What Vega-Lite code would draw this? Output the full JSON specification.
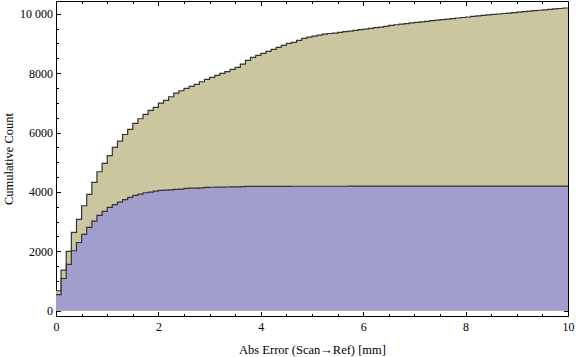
{
  "$schema": "https://vega.github.io/schema/vega-lite/v6.json",
  "width": 512,
  "height": 315,
  "autosize": {"type": "none"},
  "padding": {"left": 56, "top": 1, "right": 8, "bottom": 41},
  "background": "white",
  "config": {
    "view": {"stroke": "#000000", "strokeWidth": 1},
    "font": "Liberation Serif",
    "axis": {"grid": false, "domain": false, "tickColor": "#000000", "tickWidth": 1, "labelColor": "#000000", "titleColor": "#000000", "labelFont": "Liberation Serif", "titleFont": "Liberation Serif", "labelFontSize": 12, "titleFontSize": 12.5, "titleFontWeight": "normal", "zindex": 1, "labelFlush": false, "labelOverlap": false}
  },
  "resolve": {"axis": {"x": "independent", "y": "independent"}},
  "data": {"values": [
    {"s":"all","x":0,"y":673},{"s":"all","x":0.1,"y":1370},{"s":"all","x":0.2,"y":2000},{"s":"all","x":0.3,"y":2640},{"s":"all","x":0.4,"y":3077},{"s":"all","x":0.5,"y":3535},{"s":"all","x":0.6,"y":3919},{"s":"all","x":0.7,"y":4323},{"s":"all","x":0.8,"y":4680},{"s":"all","x":0.9,"y":4963},
    {"s":"all","x":1,"y":5225},{"s":"all","x":1.1,"y":5502},{"s":"all","x":1.2,"y":5710},{"s":"all","x":1.3,"y":5935},{"s":"all","x":1.4,"y":6108},{"s":"all","x":1.5,"y":6310},{"s":"all","x":1.6,"y":6465},{"s":"all","x":1.7,"y":6613},{"s":"all","x":1.8,"y":6747},{"s":"all","x":1.9,"y":6848},
    {"s":"all","x":2,"y":6993},{"s":"all","x":2.1,"y":7084},{"s":"all","x":2.2,"y":7205},{"s":"all","x":2.3,"y":7330},{"s":"all","x":2.4,"y":7407},{"s":"all","x":2.5,"y":7488},{"s":"all","x":2.6,"y":7556},{"s":"all","x":2.7,"y":7623},{"s":"all","x":2.8,"y":7710},{"s":"all","x":2.9,"y":7791},
    {"s":"all","x":3,"y":7859},{"s":"all","x":3.1,"y":7926},{"s":"all","x":3.2,"y":7993},{"s":"all","x":3.3,"y":8055},{"s":"all","x":3.4,"y":8128},{"s":"all","x":3.5,"y":8195},{"s":"all","x":3.6,"y":8306},{"s":"all","x":3.7,"y":8431},{"s":"all","x":3.8,"y":8532},{"s":"all","x":3.9,"y":8599},
    {"s":"all","x":4,"y":8667},{"s":"all","x":4.1,"y":8734},{"s":"all","x":4.2,"y":8801},{"s":"all","x":4.3,"y":8869},{"s":"all","x":4.4,"y":8936},{"s":"all","x":4.5,"y":9003},{"s":"all","x":4.6,"y":9037},{"s":"all","x":4.7,"y":9104},{"s":"all","x":4.8,"y":9172},{"s":"all","x":4.9,"y":9215},
    {"s":"all","x":5,"y":9249},{"s":"all","x":5.1,"y":9283},{"s":"all","x":5.2,"y":9316},{"s":"all","x":5.3,"y":9335},{"s":"all","x":5.4,"y":9350},{"s":"all","x":5.5,"y":9374},{"s":"all","x":5.6,"y":9400},{"s":"all","x":5.7,"y":9415},{"s":"all","x":5.8,"y":9441},{"s":"all","x":5.9,"y":9465},
    {"s":"all","x":6,"y":9480},{"s":"all","x":6.1,"y":9508},{"s":"all","x":6.2,"y":9535},{"s":"all","x":6.3,"y":9550},{"s":"all","x":6.4,"y":9576},{"s":"all","x":6.5,"y":9609},{"s":"all","x":6.6,"y":9630},{"s":"all","x":6.7,"y":9650},{"s":"all","x":6.8,"y":9670},{"s":"all","x":6.9,"y":9690},
    {"s":"all","x":7,"y":9709},{"s":"all","x":7.1,"y":9728},{"s":"all","x":7.2,"y":9747},{"s":"all","x":7.3,"y":9766},{"s":"all","x":7.4,"y":9785},{"s":"all","x":7.5,"y":9803},{"s":"all","x":7.6,"y":9821},{"s":"all","x":7.7,"y":9839},{"s":"all","x":7.8,"y":9857},{"s":"all","x":7.9,"y":9875},
    {"s":"all","x":8,"y":9892},{"s":"all","x":8.1,"y":9909},{"s":"all","x":8.2,"y":9926},{"s":"all","x":8.3,"y":9943},{"s":"all","x":8.4,"y":9960},{"s":"all","x":8.5,"y":9977},{"s":"all","x":8.6,"y":9993},{"s":"all","x":8.7,"y":10009},{"s":"all","x":8.8,"y":10025},{"s":"all","x":8.9,"y":10041},
    {"s":"all","x":9,"y":10057},{"s":"all","x":9.1,"y":10073},{"s":"all","x":9.2,"y":10088},{"s":"all","x":9.3,"y":10103},{"s":"all","x":9.4,"y":10118},{"s":"all","x":9.5,"y":10133},{"s":"all","x":9.6,"y":10148},{"s":"all","x":9.7,"y":10163},{"s":"all","x":9.8,"y":10178},{"s":"all","x":9.9,"y":10195},{"s":"all","x":10,"y":10195},
    {"s":"sub","x":0,"y":540},{"s":"sub","x":0.1,"y":1085},{"s":"sub","x":0.2,"y":1562},{"s":"sub","x":0.3,"y":2020},{"s":"sub","x":0.4,"y":2297},{"s":"sub","x":0.5,"y":2572},{"s":"sub","x":0.6,"y":2808},{"s":"sub","x":0.7,"y":3020},{"s":"sub","x":0.8,"y":3212},{"s":"sub","x":0.9,"y":3347},
    {"s":"sub","x":1,"y":3481},{"s":"sub","x":1.1,"y":3575},{"s":"sub","x":1.2,"y":3655},{"s":"sub","x":1.3,"y":3744},{"s":"sub","x":1.4,"y":3818},{"s":"sub","x":1.5,"y":3886},{"s":"sub","x":1.6,"y":3929},{"s":"sub","x":1.7,"y":3973},{"s":"sub","x":1.8,"y":3997},{"s":"sub","x":1.9,"y":4030},
    {"s":"sub","x":2,"y":4054},{"s":"sub","x":2.1,"y":4060},{"s":"sub","x":2.2,"y":4068},{"s":"sub","x":2.3,"y":4087},{"s":"sub","x":2.4,"y":4095},{"s":"sub","x":2.5,"y":4121},{"s":"sub","x":2.6,"y":4125},{"s":"sub","x":2.7,"y":4130},{"s":"sub","x":2.8,"y":4140},{"s":"sub","x":2.9,"y":4155},
    {"s":"sub","x":3,"y":4158},{"s":"sub","x":3.1,"y":4161},{"s":"sub","x":3.2,"y":4164},{"s":"sub","x":3.3,"y":4167},{"s":"sub","x":3.4,"y":4170},{"s":"sub","x":3.5,"y":4173},{"s":"sub","x":3.6,"y":4176},{"s":"sub","x":3.7,"y":4185},{"s":"sub","x":3.8,"y":4187},{"s":"sub","x":3.9,"y":4188},
    {"s":"sub","x":4,"y":4189},{"s":"sub","x":4.1,"y":4189},{"s":"sub","x":4.2,"y":4190},{"s":"sub","x":4.3,"y":4190},{"s":"sub","x":4.4,"y":4190},{"s":"sub","x":4.5,"y":4190},{"s":"sub","x":4.6,"y":4191},{"s":"sub","x":4.7,"y":4191},{"s":"sub","x":4.8,"y":4191},{"s":"sub","x":4.9,"y":4191},
    {"s":"sub","x":5,"y":4191},{"s":"sub","x":5.1,"y":4192},{"s":"sub","x":5.2,"y":4192},{"s":"sub","x":5.3,"y":4192},{"s":"sub","x":5.4,"y":4192},{"s":"sub","x":5.5,"y":4192},{"s":"sub","x":5.6,"y":4192},{"s":"sub","x":5.7,"y":4193},{"s":"sub","x":5.8,"y":4193},{"s":"sub","x":5.9,"y":4193},
    {"s":"sub","x":6,"y":4193},{"s":"sub","x":6.1,"y":4193},{"s":"sub","x":6.2,"y":4193},{"s":"sub","x":6.3,"y":4193},{"s":"sub","x":6.4,"y":4194},{"s":"sub","x":6.5,"y":4194},{"s":"sub","x":6.6,"y":4194},{"s":"sub","x":6.7,"y":4194},{"s":"sub","x":6.8,"y":4194},{"s":"sub","x":6.9,"y":4194},
    {"s":"sub","x":7,"y":4194},{"s":"sub","x":7.1,"y":4194},{"s":"sub","x":7.2,"y":4195},{"s":"sub","x":7.3,"y":4195},{"s":"sub","x":7.4,"y":4195},{"s":"sub","x":7.5,"y":4195},{"s":"sub","x":7.6,"y":4195},{"s":"sub","x":7.7,"y":4195},{"s":"sub","x":7.8,"y":4195},{"s":"sub","x":7.9,"y":4195},
    {"s":"sub","x":8,"y":4195},{"s":"sub","x":8.1,"y":4196},{"s":"sub","x":8.2,"y":4196},{"s":"sub","x":8.3,"y":4196},{"s":"sub","x":8.4,"y":4196},{"s":"sub","x":8.5,"y":4196},{"s":"sub","x":8.6,"y":4196},{"s":"sub","x":8.7,"y":4196},{"s":"sub","x":8.8,"y":4196},{"s":"sub","x":8.9,"y":4196},
    {"s":"sub","x":9,"y":4196},{"s":"sub","x":9.1,"y":4196},{"s":"sub","x":9.2,"y":4196},{"s":"sub","x":9.3,"y":4197},{"s":"sub","x":9.4,"y":4197},{"s":"sub","x":9.5,"y":4197},{"s":"sub","x":9.6,"y":4197},{"s":"sub","x":9.7,"y":4197},{"s":"sub","x":9.8,"y":4197},{"s":"sub","x":9.9,"y":4197},{"s":"sub","x":10,"y":4197}
  ]},
  "layer": [
    {
      "transform": [{"filter": "datum.s == 'all'"}],
      "mark": {"type": "area", "interpolate": "step-after", "color": "#CBC6A0", "opacity": 1, "clip": true, "line": {"color": "#333333", "strokeWidth": 1.2}},
      "encoding": {
        "x": {"field": "x", "type": "quantitative", "scale": {"domain": [0, 10], "nice": false, "zero": false},
          "axis": {"orient": "bottom", "values": [0, 2, 4, 6, 8, 10], "format": "d", "tickSize": -4.5, "labelPadding": 10, "title": "Abs Error (Scan→Ref) [mm]", "titleY": 37, "titleBaseline": "alphabetic"}},
        "y": {"field": "y", "type": "quantitative", "scale": {"domain": [-178, 10430], "nice": false, "zero": false},
          "axis": {"orient": "left", "values": [0, 2000, 4000, 6000, 8000, 10000], "format": "d", "labelExpr": "datum.value == 10000 ? '10 000' : datum.label", "tickSize": -4.5, "labelPadding": 8, "title": "Cumulative Count", "titleX": -44, "titleBaseline": "alphabetic"}}
      }
    },
    {
      "transform": [{"filter": "datum.s == 'sub'"}],
      "mark": {"type": "area", "interpolate": "step-after", "color": "#A19ECD", "opacity": 1, "clip": true, "line": {"color": "#333333", "strokeWidth": 1.2}},
      "encoding": {
        "x": {"field": "x", "type": "quantitative",
          "axis": {"orient": "bottom", "values": [0.5, 1, 1.5, 2.5, 3, 3.5, 4.5, 5, 5.5, 6.5, 7, 7.5, 8.5, 9, 9.5], "labels": false, "tickSize": -2.5, "title": null}},
        "y": {"field": "y", "type": "quantitative",
          "axis": {"orient": "left", "values": [500, 1000, 1500, 2500, 3000, 3500, 4500, 5000, 5500, 6500, 7000, 7500, 8500, 9000, 9500], "labels": false, "tickSize": -2.5, "title": null}}
      }
    },
    {
      "transform": [{"filter": "datum.x < 0"}],
      "mark": {"type": "point"},
      "encoding": {
        "x": {"field": "x", "type": "quantitative",
          "axis": {"orient": "top", "values": [0, 2, 4, 6, 8, 10], "labels": false, "tickSize": -4.5, "title": null}},
        "y": {"field": "y", "type": "quantitative",
          "axis": {"orient": "right", "values": [0, 2000, 4000, 6000, 8000, 10000], "labels": false, "tickSize": -4.5, "title": null}}
      }
    },
    {
      "transform": [{"filter": "datum.x < 0"}],
      "mark": {"type": "point"},
      "encoding": {
        "x": {"field": "x", "type": "quantitative",
          "axis": {"orient": "top", "values": [0.5, 1, 1.5, 2.5, 3, 3.5, 4.5, 5, 5.5, 6.5, 7, 7.5, 8.5, 9, 9.5], "labels": false, "tickSize": -2.5, "title": null}},
        "y": {"field": "y", "type": "quantitative",
          "axis": {"orient": "right", "values": [500, 1000, 1500, 2500, 3000, 3500, 4500, 5000, 5500, 6500, 7000, 7500, 8500, 9000, 9500], "labels": false, "tickSize": -2.5, "title": null}}
      }
    }
  ]
}
